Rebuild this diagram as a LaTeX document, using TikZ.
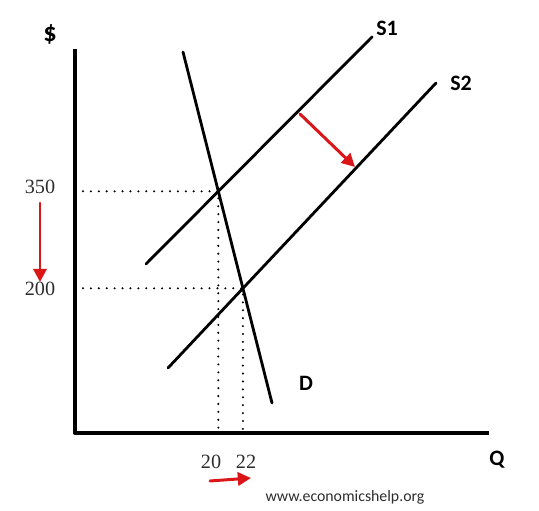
\documentclass[tikz,border=0pt]{standalone}
\usepackage{fontspec}
\setmainfont{Liberation Serif}
\newfontfamily\labelfont{Carlito}
\usetikzlibrary{arrows.meta,intersections}
\definecolor{shiftred}{RGB}{218,22,24}
\definecolor{numgray}{RGB}{45,45,45}

\begin{document}
\begin{tikzpicture}[line cap=round,line join=round,
    axisline/.style={line width=2.3pt,line cap=rect},
    curveline/.style={line width=1.6pt},
    guideline/.style={line width=1.3pt,dash pattern=on 0pt off 4.5pt},
    shiftarrow/.style={shiftred,line width=1.7pt,-{Triangle[length=7.5pt,width=7.5pt]}},
    curvelabel/.style={font=\labelfont\bfseries\fontsize{12.5}{14}\selectfont},
    numlabel/.style={text=numgray,font=\fontsize{11.5}{13}\selectfont}]
  \useasboundingbox (0,0) rectangle (10.78,10.2);
  % axes
  \draw[axisline] (1.5,9.18) -- (1.5,1.54) -- (9.74,1.54);
  % demand and supply
  \draw[curveline,name path=demand] (3.66,9.16) -- (5.44,2.14);
  \draw[curveline,name path=supplyone] (2.92,4.92) -- (7.44,9.46);
  \draw[curveline,name path=supplytwo] (3.36,2.84) -- (8.72,8.54);
  \path[name intersections={of=demand and supplyone,by=eqone}];
  \path[name intersections={of=demand and supplytwo,by=eqtwo}];
  % guides
  \draw[guideline] (1.66,0 |- eqone) -- (eqone) -- (eqone |- 0,1.6);
  \draw[guideline] (1.66,0 |- eqtwo) -- (eqtwo) -- (eqtwo |- 0,1.6);
  % labels
  \node[curvelabel,font=\labelfont\bfseries\fontsize{15}{17}\selectfont] (price) at (1.0,9.52) {\$};
  \node[curvelabel] (quantity) at (9.94,1.0) {Q};
  \node[curvelabel] (sone) at (7.74,9.64) {S1};
  \node[curvelabel] (stwo) at (9.22,8.54) {S2};
  \node[curvelabel] (dlabel) at (6.12,2.54) {D};
  \node[numlabel] (pone) at (0.8,6.46) {350};
  \node[numlabel] (ptwo) at (0.8,4.42) {200};
  \node[numlabel] (qone) at (4.22,0.96) {20};
  \node[numlabel] (qtwo) at (4.92,0.96) {22};
  % shifts
  \draw[shiftarrow] (pone.south) ++(0,-0.06) -- ++(0,-1.58);
  \draw[shiftarrow] (4.2,0.58) -- (5.02,0.64);
  \draw[shiftarrow] (6.0,7.92) -- (7.1,6.86);
  \node[text=numgray,font=\labelfont\fontsize{9}{11}\selectfont] (site) at (6.9,0.26) {www.economicshelp.org};
\end{tikzpicture}
\end{document}
